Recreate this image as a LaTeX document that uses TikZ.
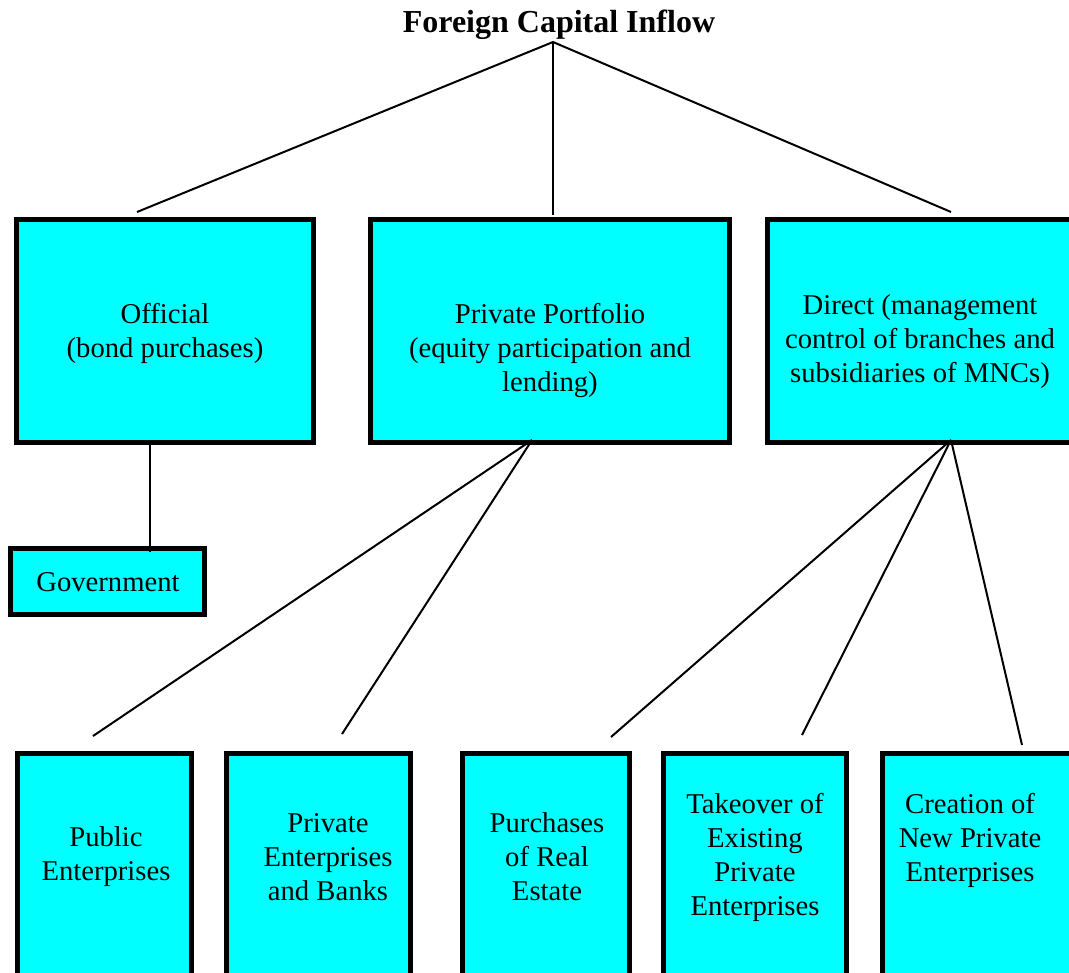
\documentclass[tikz,border=0pt]{standalone}
\usepackage{fontspec}
\setmainfont{Liberation Serif}
\definecolor{boxcyan}{HTML}{00FFFF}
\begin{document}
\begin{tikzpicture}[x=0.75pt,y=-0.75pt,
  boxnode/.style={draw=black, line width=3.75pt, fill=boxcyan, inner sep=0pt, rectangle},
  txt/.style={align=center, inner sep=0pt, font=\fontsize{21.5pt}{25.5pt}\selectfont},
  conn/.style={line width=1.5pt, black}]
\useasboundingbox (0,0) rectangle (1069,972);
\clip (0,0) rectangle (1069,972);
% title
\node[inner sep=0pt, font=\fontsize{24pt}{28pt}\selectfont\bfseries] (title) at (559,25) {Foreign Capital Inflow};
% top boxes
\node[boxnode, minimum width=222.75pt, minimum height=167.25pt] (official) at (165,331) {};
\node[boxnode, minimum width=269.25pt, minimum height=167.25pt] (portfolio) at (550,331) {};
\node[boxnode, minimum width=232.5pt, minimum height=167.25pt] (direct) at (922.5,331) {};
\node[boxnode, minimum width=145.5pt, minimum height=49.5pt] (gov) at (107.5,581.5) {};
% bottom boxes
\node[boxnode, minimum width=130.5pt, minimum height=175.5pt] (public) at (104.5,870.5) {};
\node[boxnode, minimum width=138pt, minimum height=175.5pt] (privbanks) at (318.5,870.5) {};
\node[boxnode, minimum width=125.25pt, minimum height=175.5pt] (realestate) at (546,870.5) {};
\node[boxnode, minimum width=137.25pt, minimum height=175.5pt] (takeover) at (755,870.5) {};
\node[boxnode, minimum width=146.25pt, minimum height=175.5pt] (creation) at (980,870.5) {};
% texts
\node[txt] (tofficial) at (165,333) {Official\\(bond purchases)};
\node[txt] (tportfolio) at (550,350) {Private Portfolio\\(equity participation and\\lending)};
\node[txt] (tdirect) at (920,342) {Direct (management\\control of branches and\\subsidiaries of MNCs)};
\node[txt] (tgov) at (108,582) {Government};
\node[txt] (tpublic) at (106,857) {Public\\Enterprises};
\node[txt] (tprivbanks) at (328,857) {Private\\Enterprises\\and Banks};
\node[txt] (trealestate) at (547,857) {Purchases\\of Real\\Estate};
\node[txt] (ttakeover) at (755,857) {Takeover of\\Existing\\Private\\Enterprises};
\node[txt] (tcreation) at (970,840) {Creation of\\New Private\\Enterprises};
% connector end points
\coordinate (apex) at (553,42);
\coordinate (officialtop) at (137,212);
\coordinate (portfoliotop) at (553,215);
\coordinate (directtop) at (951,212);
\coordinate (officialbot) at (150,440);
\coordinate (govtop) at (150,552);
\coordinate (portfoliobot) at (532,440);
\coordinate (publictop) at (93,736);
\coordinate (privbankstop) at (342,734);
\coordinate (directbot) at (951,440);
\coordinate (realestatetop) at (611,737);
\coordinate (takeovertop) at (802,735);
\coordinate (creationtop) at (1022,745);
% connectors
\draw[conn] (apex) -- (officialtop);
\draw[conn] (apex) -- (portfoliotop);
\draw[conn] (apex) -- (directtop);
\draw[conn] (officialbot) -- (govtop);
\draw[conn] (portfoliobot) -- (publictop);
\draw[conn] (portfoliobot) -- (privbankstop);
\draw[conn] (directbot) -- (realestatetop);
\draw[conn] (directbot) -- (takeovertop);
\draw[conn] (directbot) -- (creationtop);
\end{tikzpicture}
\end{document}
